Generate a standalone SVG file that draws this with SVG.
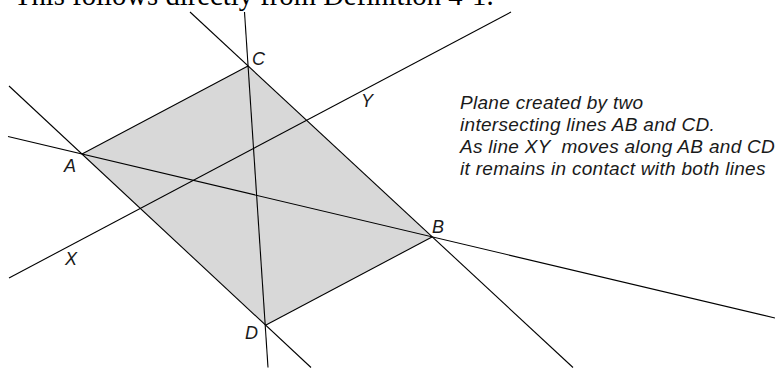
<svg xmlns="http://www.w3.org/2000/svg" width="775" height="369" viewBox="0 0 775 369">
  <style>
    .ln { stroke: #000; stroke-width: 1.1; fill: none; stroke-linecap: butt; }
    .lbl { font-family: "Liberation Sans", Arial, sans-serif; font-style: italic; font-size: 18px; fill: #1a1a1a; }
    .note { font-family: "Liberation Sans", Arial, sans-serif; font-style: italic; font-size: 19px; letter-spacing: 0.3px; fill: #1a1a1a; white-space: pre; }
    .title { font-family: "Liberation Serif", "Times New Roman", serif; font-size: 28.7px; fill: #000; }
  </style>
  <rect width="775" height="369" fill="#fff"/>
  <text class="title" x="14" y="5">This follows directly from Definition 4-1.</text>

  <g id="plane">
    <polygon points="82,154 248,66 432,237 266,325" fill="#d8d8d8" stroke="none"/>
  </g>

  <g id="connectors">
    <line class="ln" x1="82" y1="154" x2="248" y2="66"/>
    <line class="ln" x1="266" y1="325" x2="432" y2="237"/>
    <line class="ln" x1="8" y1="136.5" x2="775" y2="318"/>
    <line class="ln" x1="244.5" y1="12" x2="268" y2="367.5"/>
    <line class="ln" x1="9" y1="86" x2="311" y2="367.5"/>
    <line class="ln" x1="190" y1="12" x2="573" y2="367.5"/>
    <line class="ln" x1="9" y1="278" x2="511" y2="12"/>
  </g>

  <g id="label-C"><text class="lbl" x="252" y="65">C</text></g>
  <g id="label-Y"><text class="lbl" x="361" y="107">Y</text></g>
  <g id="label-A"><text class="lbl" x="64" y="172">A</text></g>
  <g id="label-X"><text class="lbl" x="65" y="265">X</text></g>
  <g id="label-B"><text class="lbl" x="432" y="233">B</text></g>
  <g id="label-D"><text class="lbl" x="245" y="339">D</text></g>

  <g id="note">
    <text class="note" x="460" y="109">Plane created by two</text>
    <text class="note" x="460" y="131">intersecting lines AB and CD.</text>
    <text class="note" x="460" y="153">As line XY  moves along AB and CD</text>
    <text class="note" x="460" y="175">it remains in contact with both lines</text>
  </g>
</svg>
